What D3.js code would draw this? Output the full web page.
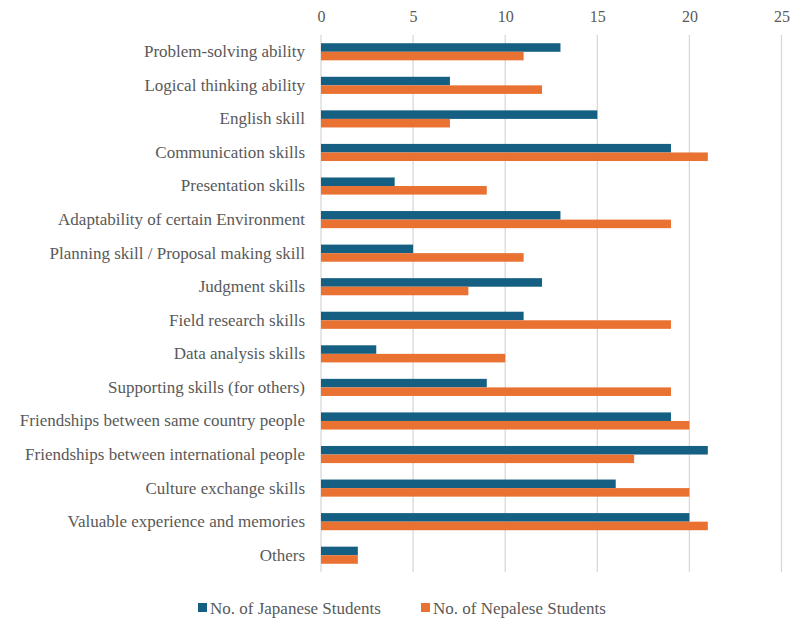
<!DOCTYPE html>
<html><head><meta charset="utf-8">
<script src="https://cdn.jsdelivr.net/npm/d3@7"></script>
<style>body{margin:0;background:#fff}svg{display:block}
svg text{font-family:"Liberation Serif","Times New Roman","DejaVu Serif",serif;}</style>
</head><body><svg id="c" width="792" height="620"></svg>
<script>
const categories = ["Problem-solving ability","Logical thinking ability","English skill","Communication skills","Presentation skills","Adaptability of certain Environment","Planning skill / Proposal making skill","Judgment skills","Field research skills","Data analysis skills","Supporting skills (for others)","Friendships between same country people","Friendships between international people","Culture exchange skills","Valuable experience and memories","Others"];
const japanese = [13,7,15,19,4,13,5,12,11,3,9,19,21,16,20,2];
const nepalese = [11,12,7,21,9,19,11,8,19,10,19,20,17,20,21,2];
const seriesNames = ["No. of Japanese Students","No. of Nepalese Students"];
const tickValues = [0,5,10,15,20,25];
const colors = ["#156082","#E97132"];

const svg = d3.select("#c");
const x = d3.scaleLinear().domain([0,25]).range([321,781.5]);
const y = d3.scaleBand().domain(categories).range([35,572]).paddingInner(0.49).paddingOuter(0.245);
const yi = d3.scaleBand().domain([0,1]).range([0,y.bandwidth()]);

svg.append("g").selectAll("line").data(tickValues).join("line")
  .attr("x1",d=>x(d)).attr("x2",d=>x(d)).attr("y1",35).attr("y2",572)
  .attr("stroke","#d9d9d9").attr("stroke-width",1.3);

const ax = svg.append("g").attr("transform","translate(0,17)")
  .call(d3.axisTop(x).tickValues(tickValues).tickSize(0).tickPadding(0));
ax.select(".domain").remove();
ax.selectAll("text").attr("font-family",null).attr("font-size",16).attr("fill","#595959").attr("dy","0.32em");
ax.attr("font-family",null);

const data = [japanese, nepalese];
data.forEach((vals,si)=>{
  svg.append("g").selectAll("rect").data(vals).join("rect")
    .attr("x",x(0)).attr("y",(d,i)=>y(categories[i])+yi(si))
    .attr("width",d=>x(d)-x(0)).attr("height",yi.bandwidth())
    .attr("fill",colors[si]);
});

const ay = svg.append("g").attr("transform","translate(305,0)")
  .call(d3.axisLeft(y).tickSize(0).tickPadding(0));
ay.select(".domain").remove();
ay.attr("font-family",null);
ay.selectAll("text").attr("font-size",17).attr("fill","#595959");

const legX = [198, 421];
seriesNames.forEach((n,i)=>{
  svg.append("rect").attr("x",legX[i]).attr("y",603).attr("width",9).attr("height",9).attr("fill",colors[i]);
  svg.append("text").attr("x",legX[i]+12).attr("y",608).attr("dy","0.35em")
    .attr("font-size",17).attr("fill","#595959").text(n);
});
</script></body></html>
